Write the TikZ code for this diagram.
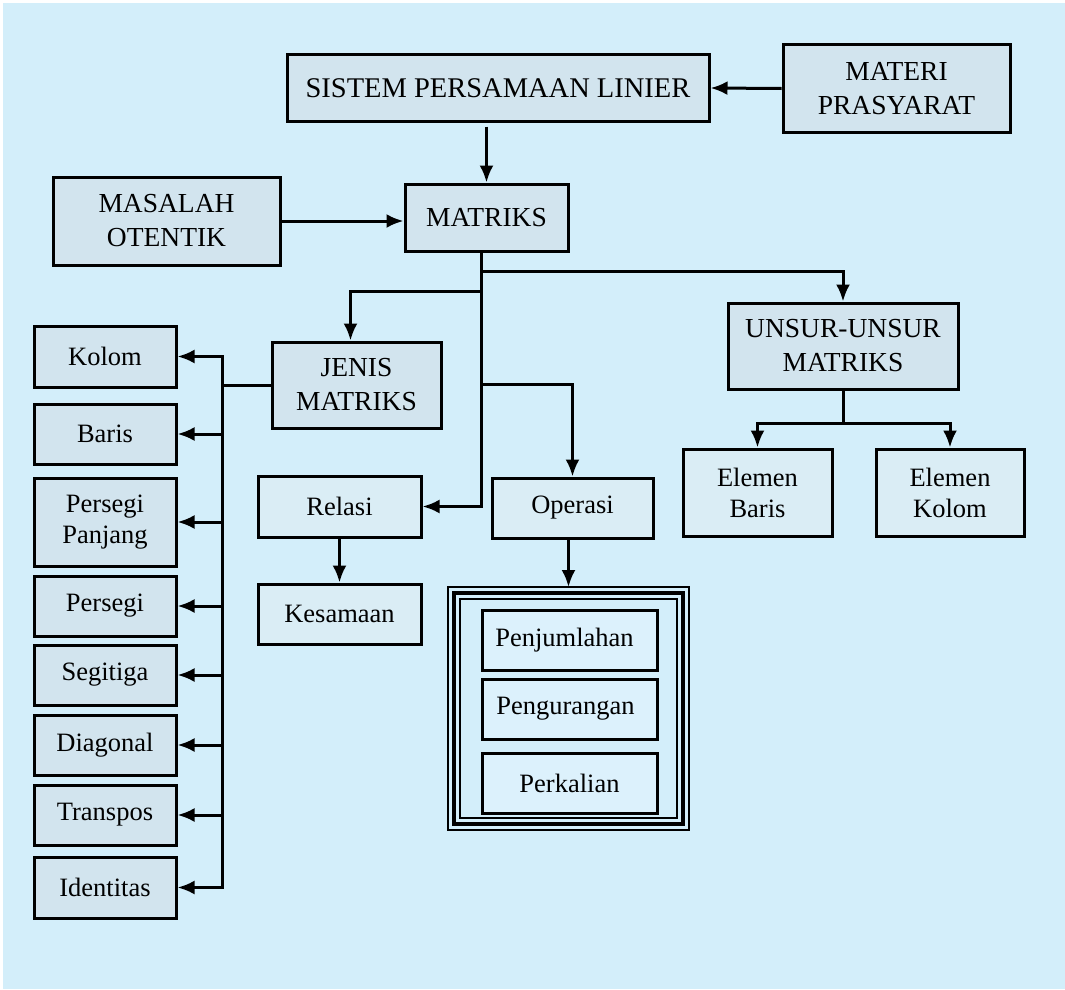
\documentclass[tikz,border=0pt]{standalone}
\usepackage{fontspec}
\setmainfont{Liberation Serif}
\usetikzlibrary{arrows.meta}
\definecolor{bg}{RGB}{211,238,250}
\definecolor{boxA}{RGB}{210,228,238}
\definecolor{boxB}{RGB}{218,237,245}
\definecolor{boxC}{RGB}{220,241,252}
\begin{document}
\begin{tikzpicture}[x=1pt,y=-1pt,
  box/.style={draw=black, line width=3pt, fill=boxA, inner sep=0pt, align=center, font=\fontsize{26.5}{31}\selectfont},
  capsbox/.style={box, font=\fontsize{27.5}{34}\selectfont},
  lbox/.style={box, fill=boxB},
  colbox/.style={box, minimum width=142, minimum height=60},
  con/.style={line width=3pt},
  tip/.tip={Latex[length=17pt,width=14pt]},
  arr/.style={line width=3pt, -tip}]
\useasboundingbox (0,0) rectangle (1065,990);
\fill[white] (0,0) rectangle (1065,990);
\fill[bg] (3,3) rectangle (1065,989);

% top nodes
\node[capsbox, minimum width=422, minimum height=66, font=\fontsize{28.5}{34}\selectfont] (spl) at (498,88) {SISTEM PERSAMAAN LINIER};
\node[capsbox, minimum width=227, minimum height=87] (materi) at (896.5,88.5) {MATERI\\PRASYARAT};
\node[capsbox, minimum width=163, minimum height=67] (matriks) at (486.5,217.5) {MATRIKS};
\node[capsbox, minimum width=227, minimum height=88] (masalah) at (166.5,221) {MASALAH\\OTENTIK};
\node[capsbox, minimum width=230, minimum height=86] (unsur) at (843,346) {UNSUR-UNSUR\\MATRIKS};
\node[capsbox, minimum width=169, minimum height=86] (jenis) at (356.5,385) {JENIS\\MATRIKS};

% middle nodes
\node[lbox, minimum width=163, minimum height=61] (relasi) at (339.5,506.5) {Relasi};
\node[lbox, minimum width=163, minimum height=60] (kesamaan) at (339.5,614) {Kesamaan};
\node[lbox, minimum width=161, minimum height=60] (operasi) at (572.5,508) {Operasi};
\node[lbox, minimum width=149, minimum height=87] (ebaris) at (757.5,492.5) {Elemen\\Baris};
\node[lbox, minimum width=148, minimum height=87] (ekolom) at (950,492.5) {Elemen\\Kolom};

% operations triple box
\node[draw=black, line width=1.5pt, outer sep=0pt, minimum width=241, minimum height=243, inner sep=0pt] (ops) at (568.5,708.5) {};
\draw[line width=3.5pt] ([shift={(6,6)}]ops.north west) rectangle ([shift={(-6,-6)}]ops.south east);
\draw[line width=1.5pt] ([shift={(12,12)}]ops.north west) rectangle ([shift={(-12,-12)}]ops.south east);
\node[box, fill=boxC, minimum width=175, minimum height=60] (penj) at (569.5,640) {Penjumlahan\hspace*{10pt}};
\node[box, fill=boxC, minimum width=175, minimum height=60] (peng) at (569.5,709) {Pengurangan\hspace*{8pt}};
\node[box, fill=boxC, minimum width=175, minimum height=60] (perk) at (569.5,783) {Perkalian};

% left column
\node[colbox, minimum height=61] (kolom) at (105,356.5) {Kolom};
\node[colbox] (baris) at (105,434) {Baris};
\node[colbox, minimum height=88] (ppanjang) at (105,522) {Persegi\\Panjang};
\node[colbox] (persegi) at (105,606) {Persegi};
\node[colbox] (segitiga) at (105,675) {Segitiga};
\node[colbox] (diagonal) at (105,745) {Diagonal};
\node[colbox] (transpos) at (105,815) {Transpos};
\node[colbox, minimum height=61] (identitas) at (105,887.5) {Identitas};

% connectors
\draw[arr] (materi.west) -- (spl.east);
\draw[arr, shorten <=4pt] (spl.south -| matriks.north) -- (matriks.north);
\draw[arr] (masalah.east) -- (masalah.east -| matriks.west);

\coordinate (tx) at (481,0);
\draw[arr] (matriks.south -| tx) |- (relasi.east);
\coordinate (b1) at (481,271);
\coordinate (b2) at (481,291);
\coordinate (b3) at (481,384);
\draw[arr] (b1) -| (unsur.north);
\draw[arr] (b2) -| ([xshift=-6pt]jenis.north);
\draw[arr] (b3) -| (operasi.north);
\draw[arr] (operasi.south -| ops.north) -- (ops.north);
\draw[arr] (relasi.south) -- (kesamaan.north);

\draw[con] (unsur.south) -- ++(0,33) coordinate (u);
\draw[arr] (u) -| (ebaris.north);
\draw[arr] (u) -| (ekolom.north);

\coordinate (j) at (222,385);
\draw[con] (jenis.west) -- (jenis.west -| j);
\draw[con, tip-tip] (kolom.east) -- (j |- kolom.east) -- (j |- identitas.east) -- (identitas.east);
\foreach \n in {baris,ppanjang,persegi,segitiga,diagonal,transpos}
  \draw[arr] (j |- \n.east) -- (\n.east);
\end{tikzpicture}
\end{document}
